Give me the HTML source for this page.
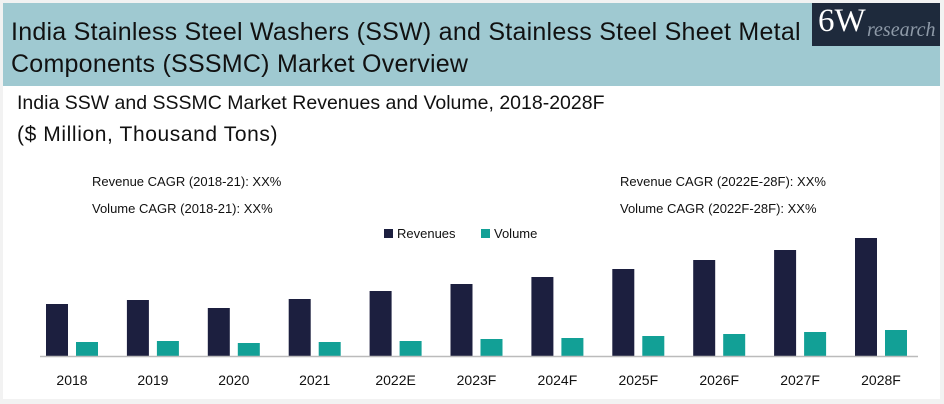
<!DOCTYPE html>
<html><head><meta charset="utf-8"><style>
body{margin:0;width:944px;height:404px;background:#f2f2f2;font-family:"Liberation Sans",sans-serif;overflow:hidden}
#frame{position:absolute;left:3px;top:3px;width:937px;height:396px;background:#fff}
#hdr{position:absolute;left:0;top:0;width:937px;height:83px;background:#9fc9d1}
#t1{position:absolute;left:8px;top:13px;font-size:25px;color:#111;line-height:32px;letter-spacing:0.25px}
#logo{position:absolute;left:809px;top:0;width:128px;height:43px;background:#1e2a3c}
#logo .a{position:absolute;left:6px;top:0;font-family:"Liberation Serif",serif;font-size:33px;color:#fff}
#logo .b{position:absolute;left:55px;top:16px;font-family:"Liberation Serif",serif;font-style:italic;font-size:20px;color:#8e9aa8}
.sub{position:absolute;left:14px;font-size:20px;color:#111}
.cagr{position:absolute;font-size:13px;color:#111}
</style></head><body>
<div id="frame">
<div id="hdr">
<div id="t1">India Stainless Steel Washers (SSW) and Stainless Steel Sheet Metal<br>Components (SSSMC) Market Overview</div>
<div id="logo"><span class="a">6W</span><span class="b">research</span></div>
</div>
<div class="sub" style="top:89px;font-size:19.5px">India SSW and SSSMC Market Revenues and Volume, 2018-2028F</div>
<div class="sub" style="top:120px;font-size:21px;letter-spacing:0.6px">($ Million, Thousand Tons)</div>
<div class="cagr" style="left:89px;top:171px">Revenue CAGR (2018-21): XX%</div>
<div class="cagr" style="left:89px;top:198px">Volume CAGR (2018-21): XX%</div>
<div class="cagr" style="left:617px;top:171px">Revenue CAGR (2022E-28F): XX%</div>
<div class="cagr" style="left:617px;top:198px">Volume CAGR (2022F-28F): XX%</div>
</div>
<svg id="chart" width="944" height="404" style="position:absolute;left:0;top:0"></svg>
<script>
const categories=["2018","2019","2020","2021","2022E","2023F","2024F","2025F","2026F","2027F","2028F"];
const revenues=[52,56,48,57,65,72,79,87,96,106,118];
const volumes=[14,15,13,14,15,17,18,20,22,24,26];
const NS="http://www.w3.org/2000/svg";
const svg=document.getElementById('chart');
const baseY=356, x0=46, step=80.9, bw=22;
const xPos=i=>x0+i*step;
const yScale=v=>v*1.0;
function mk(t,a){const e=document.createElementNS(NS,t);for(const k in a)e.setAttribute(k,a[k]);svg.appendChild(e);return e;}
categories.forEach((c,i)=>{
 let r=mk('rect',{x:xPos(i),y:baseY-yScale(revenues[i]),width:bw,height:yScale(revenues[i]),fill:'#1c1f3f'});
 
 
 let v=mk('rect',{x:xPos(i)+30,y:baseY-yScale(volumes[i]),width:bw,height:yScale(volumes[i]),fill:'#12a096'});
 
 
 let t=mk('text',{x:xPos(i)+26,y:385,'text-anchor':'middle','font-size':14,fill:'#111','font-family':'Liberation Sans, sans-serif'});
 t.textContent=c;
 
 
});
let ax=mk('line',{x1:40,x2:918,y1:baseY+0.5,y2:baseY+0.5,stroke:'#bbb','stroke-width':1.5});


const leg=[['Revenues','#1c1f3f',384],['Volume','#12a096',481]];
leg.forEach(l=>{
 let s=mk('rect',{x:l[2],y:229,width:9,height:9,fill:l[1]});
 
 
 let t=mk('text',{x:l[2]+13,y:238,'font-size':13,fill:'#111','font-family':'Liberation Sans, sans-serif'});
 t.textContent=l[0];
 
 
});
</script>
</body></html>
